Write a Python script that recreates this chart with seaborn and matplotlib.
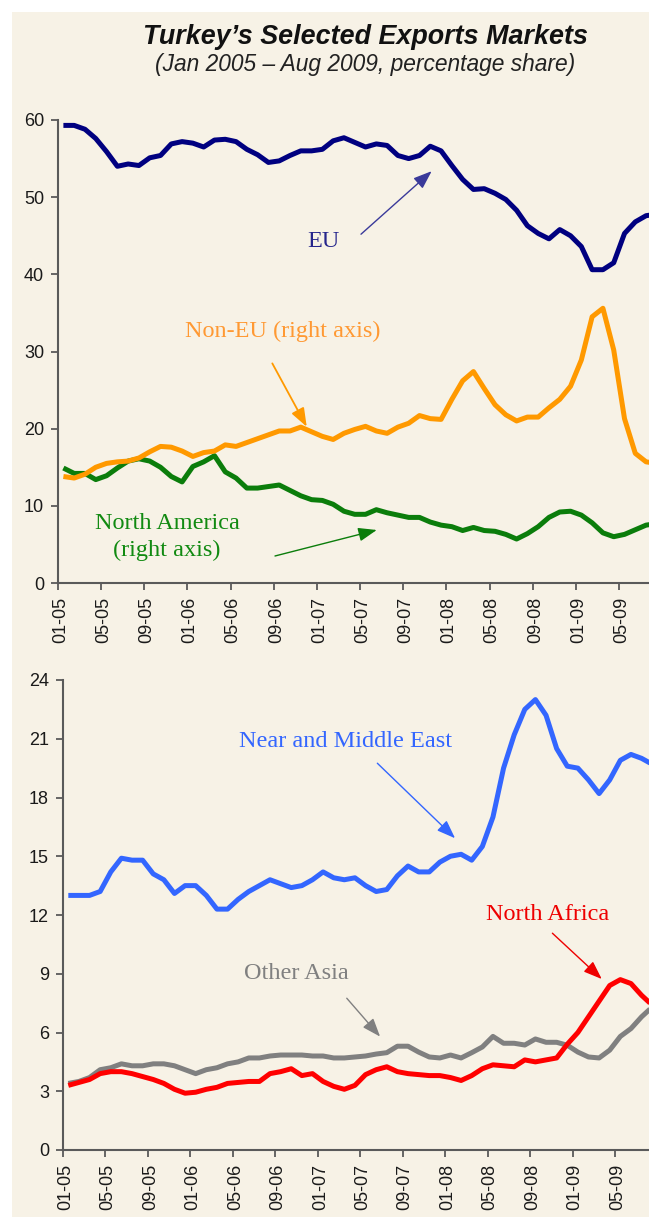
import numpy as np
import pandas as pd
import matplotlib
matplotlib.use("Agg")
import matplotlib.pyplot as plt
import matplotlib.transforms as mtransforms
from matplotlib.patches import Rectangle
import seaborn as sns

# ---------------- data (percentage share, Jan 2005 - Aug 2009) ----------------
months = pd.date_range("2005-01-01", "2009-08-01", freq="MS")
month_labels = [m.strftime("%m-%y") for m in months]
tick_labels = month_labels[::4]

eu = [59.3, 59.3, 58.8, 57.6, 55.9, 54.0, 54.3, 54.1, 55.1, 55.4,
      56.9, 57.2, 57.0, 56.5, 57.4, 57.5, 57.2, 56.2, 55.5, 54.5,
      54.7, 55.4, 56.0, 56.0, 56.2, 57.3, 57.7, 57.1, 56.5, 56.9,
      56.7, 55.4, 55.0, 55.4, 56.6, 56.0, 54.1, 52.3, 51.0, 51.1,
      50.5, 49.7, 48.3, 46.3, 45.3, 44.6, 45.8, 45.0, 43.6, 40.6,
      40.6, 41.5, 45.3, 46.8, 47.6, 47.8]
non_eu = [13.8, 13.6, 14.1, 15.0, 15.5, 15.7, 15.8, 16.2, 17.0, 17.7,
          17.6, 17.1, 16.4, 16.9, 17.1, 17.9, 17.7, 18.2, 18.7, 19.2,
          19.7, 19.7, 20.2, 19.6, 19.0, 18.6, 19.4, 19.9, 20.3, 19.7,
          19.4, 20.2, 20.7, 21.7, 21.3, 21.2, 23.8, 26.2, 27.4, 25.2,
          23.1, 21.8, 21.0, 21.5, 21.5, 22.7, 23.8, 25.5, 28.9, 34.5,
          35.6, 30.2, 21.3, 16.8, 15.7, 15.5]
north_america = [14.9, 14.2, 14.2, 13.4, 13.9, 14.9, 15.8, 16.1, 15.8, 15.0,
                 13.8, 13.1, 15.1, 15.7, 16.5, 14.4, 13.6, 12.3, 12.3, 12.5,
                 12.7, 12.0, 11.3, 10.8, 10.7, 10.2, 9.3, 8.9, 8.9, 9.5,
                 9.1, 8.8, 8.5, 8.5, 7.9, 7.5, 7.3, 6.8, 7.2, 6.8,
                 6.7, 6.3, 5.7, 6.4, 7.3, 8.5, 9.2, 9.3, 8.8, 7.8,
                 6.5, 6.0, 6.3, 6.9, 7.5, 7.7]
near_middle_east = [13.0, 13.0, 13.0, 13.2, 14.2, 14.9, 14.8, 14.8, 14.1, 13.8,
                    13.1, 13.5, 13.5, 13.0, 12.3, 12.3, 12.8, 13.2, 13.5, 13.8,
                    13.6, 13.4, 13.5, 13.8, 14.2, 13.9, 13.8, 13.9, 13.5, 13.2,
                    13.3, 14.0, 14.5, 14.2, 14.2, 14.7, 15.0, 15.1, 14.8, 15.5,
                    17.0, 19.5, 21.2, 22.5, 23.0, 22.2, 20.5, 19.6, 19.5, 18.9,
                    18.2, 18.9, 19.9, 20.2, 20.0, 19.7]
other_asia = [3.4, 3.5, 3.7, 4.1, 4.2, 4.4, 4.3, 4.3, 4.4, 4.4,
              4.3, 4.1, 3.9, 4.1, 4.2, 4.4, 4.5, 4.7, 4.7, 4.8,
              4.85, 4.85, 4.85, 4.8, 4.8, 4.7, 4.7, 4.75, 4.8, 4.9,
              4.97, 5.3, 5.3, 5.0, 4.75, 4.7, 4.85, 4.7, 4.97, 5.26,
              5.8, 5.45, 5.45, 5.36, 5.67, 5.5, 5.5, 5.35, 5.0, 4.75,
              4.7, 5.1, 5.8, 6.2, 6.8, 7.3]
north_africa = [3.3, 3.45, 3.6, 3.9, 4.0, 4.0, 3.9, 3.75, 3.6, 3.4,
                3.1, 2.9, 2.95, 3.1, 3.2, 3.4, 3.45, 3.5, 3.5, 3.9,
                4.0, 4.15, 3.8, 3.9, 3.5, 3.25, 3.1, 3.3, 3.85, 4.1,
                4.25, 4.0, 3.9, 3.85, 3.8, 3.8, 3.7, 3.55, 3.8, 4.15,
                4.35, 4.3, 4.25, 4.6, 4.5, 4.6, 4.7, 5.4, 6.0, 6.8,
                7.6, 8.4, 8.7, 8.5, 7.9, 7.4]

top_yticks = [0, 10, 20, 30, 40, 50, 60]
bottom_yticks = [0, 3, 6, 9, 12, 15, 18, 21, 24]

# ---------------- style ----------------
sns.set_style("white")
plt.rcParams["font.family"] = ["Liberation Sans", "DejaVu Sans"]

BG = "#F7F2E6"
SPINE = "#5a5a5a"
SERIF = ["Liberation Serif", "DejaVu Serif"]

W, H = 649, 1217
fig = plt.figure(figsize=(W / 100, H / 100), dpi=100, facecolor=BG)
# white margin strips of the original page
fig.patches.append(Rectangle((0, 0), 12 / W, 1, transform=fig.transFigure,
                             facecolor="white", edgecolor="none", zorder=-5))
fig.patches.append(Rectangle((0, 1 - 12 / H), 1, 12 / H, transform=fig.transFigure,
                             facecolor="white", edgecolor="none", zorder=-5))

ax1 = fig.add_axes([58 / W, 1 - 583 / H, (W - 58) / W, (583 - 120) / H])
ax2 = fig.add_axes([63 / W, 1 - 1150 / H, (W - 63) / W, (1150 - 680) / H])

x = np.arange(len(months))
df = pd.DataFrame({"x": x, "EU": eu, "Non-EU": non_eu, "North America": north_america,
                   "Near and Middle East": near_middle_east, "Other Asia": other_asia,
                   "North Africa": north_africa})

lw = 3.6
line_kw = dict(linewidth=lw, solid_joinstyle="round", solid_capstyle="butt", legend=False)

sns.lineplot(data=df, x="x", y="North America", ax=ax1, color="#0b7d0b", **line_kw)
sns.lineplot(data=df, x="x", y="Non-EU", ax=ax1, color="#FF9900", **line_kw)
sns.lineplot(data=df, x="x", y="EU", ax=ax1, color="#000080", **line_kw)

sns.lineplot(data=df, x="x", y="Other Asia", ax=ax2, color="#808080", **line_kw)
sns.lineplot(data=df, x="x", y="North Africa", ax=ax2, color="#FF0000", **line_kw)
sns.lineplot(data=df, x="x", y="Near and Middle East", ax=ax2, color="#3366FF", **line_kw)

tick_pos = [i - 0.5 for i in range(0, len(months), 4)]

for ax, yt, xmax in ((ax1, top_yticks, 54.27), (ax2, bottom_yticks, 54.7)):
    ax.set_facecolor(BG)
    ax.set_xlim(-0.5, xmax)
    ax.set_ylim(yt[0], yt[-1])
    ax.set_yticks(yt)
    ax.set_xticks(tick_pos)
    ax.set_xticklabels(tick_labels, rotation=90, fontsize=13, color="#1a1a1a")
    ax.set_yticklabels([str(v) for v in yt], fontsize=13, color="#1a1a1a")
    ax.set_xlabel("")
    ax.set_ylabel("")
    for s in ("top", "right"):
        ax.spines[s].set_visible(False)
    for s in ("left", "bottom"):
        ax.spines[s].set_color(SPINE)
        ax.spines[s].set_linewidth(1.5)
    ax.tick_params(axis="both", direction="out", length=5, width=1.3, color=SPINE,
                   left=True, bottom=True)
    ax.tick_params(axis="y", pad=5)
    ax.tick_params(axis="x", pad=5)
    ax.grid(False)
    off = mtransforms.ScaledTranslation(2.5 / 100, 0, fig.dpi_scale_trans)
    for lab in ax.get_xticklabels():
        lab.set_transform(lab.get_transform() + off)

# ---------------- annotations ----------------
def arrow(ax, tail, tip, color, lw_=1.0):
    ax.annotate("", xy=tip, xytext=tail, xycoords="data", textcoords="data",
                arrowprops=dict(arrowstyle="-|>,head_length=0.75,head_width=0.28",
                                color=color, lw=lw_, shrinkA=0, shrinkB=0,
                                mutation_scale=15))

FS = 17.5
ax1.text(24.06, 44.3, "EU", color="#26268c", fontsize=FS, family=SERIF,
         ha="center", va="center")
arrow(ax1, (27.58, 45.2), (34.13, 53.37), "#3a3a9a")

ax1.text(20.35, 32.6, "Non-EU (right axis)", color="#FF9933", fontsize=FS, family=SERIF,
         ha="center", va="center")
arrow(ax1, (19.36, 28.46), (22.55, 20.25), "#FF9900", 1.3)

ax1.text(9.6, 5.96, "North America\n(right axis)", color="#118a11", fontsize=FS,
         family=SERIF, ha="center", va="center", linespacing=1.4)
arrow(ax1, (19.61, 3.5), (29.04, 6.87), "#0b7d0b")

ax2.text(26.07, 20.84, "Near and Middle East", color="#3366FF", fontsize=FS,
         family=SERIF, ha="center", va="center")
arrow(ax2, (29.11, 19.75), (36.43, 15.92), "#3366FF")

ax2.text(45.19, 12.0, "North Africa", color="#EE0000", fontsize=FS, family=SERIF,
         ha="center", va="center")
arrow(ax2, (45.6, 11.07), (50.25, 8.73), "#EE0000")

ax2.text(21.45, 8.99, "Other Asia", color="#808080", fontsize=FS, family=SERIF,
         ha="center", va="center")
arrow(ax2, (26.23, 7.75), (29.37, 5.79), "#808080")

# ---------------- titles ----------------
fig.text(366 / W, 1 - 37 / H, "Turkey\u2019s Selected Exports Markets", ha="center",
         va="center", fontsize=19.4, fontweight="bold", fontstyle="italic", color="#111111")
fig.text(365 / W, 1 - 64 / H, "(Jan 2005 \u2013 Aug 2009, percentage share)", ha="center",
         va="center", fontsize=16.4, fontstyle="italic", color="#222222")

fig.savefig("out.png", dpi=100, facecolor=fig.get_facecolor())
